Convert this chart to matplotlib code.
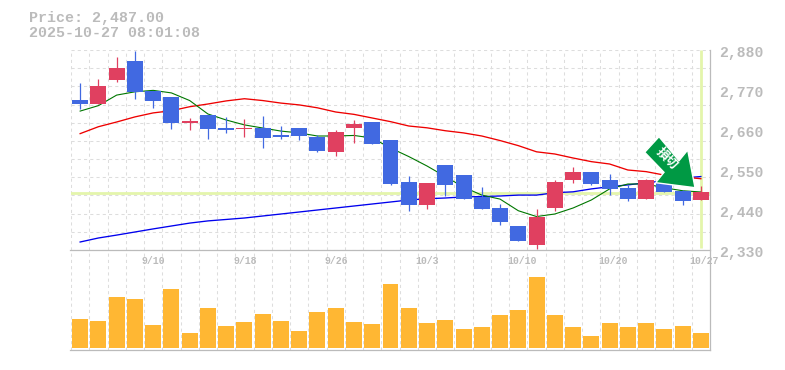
import matplotlib
matplotlib.use('Agg')
import matplotlib.pyplot as plt
from matplotlib.patches import Polygon

# everything, prices in yen
price_text = "Price: 2,487.00"
time_text = "2025-10-27 08:01:08"
current_price = 2487

date_pos = [4, 9, 14, 19, 24, 29, 34]
date_labels = ["9/10", "9/18", "9/26", "10/3", "10/10", "10/20", "10/27"]
price_ticks = [2880, 2770, 2660, 2550, 2440, 2330]

opens = [2742.5, 2731.5, 2797.5, 2850, 2768, 2751, 2679, 2701, 2665.5, 2663, 2665.5, 2646, 2665.5, 2640.5, 2599.5, 2665.5,
         2682, 2632.5, 2517, 2454, 2564, 2536, 2476, 2445.5, 2396, 2344, 2445.5, 2522.5, 2544.5, 2522.5, 2500.5, 2470, 2517, 2492, 2467.5]
closes = [2731.5, 2781, 2830.5, 2764.5, 2740, 2679, 2685, 2663, 2660, 2665.5, 2638, 2640.5, 2643.5, 2602, 2654.5, 2676.5,
          2621.5, 2511.5, 2454, 2514, 2509, 2470, 2443, 2407, 2355, 2421, 2517, 2544.5, 2511.5, 2498, 2470, 2522.5, 2489.5, 2465, 2489.5]
highs = [2790, 2800, 2861, 2877, 2768, 2751, 2693, 2701, 2696, 2690, 2698.5, 2671, 2665.5, 2646, 2660, 2687.5,
         2682, 2632.5, 2533.5, 2514, 2564, 2536, 2503, 2456.5, 2396, 2443, 2522.5, 2558, 2544.5, 2539, 2509, 2525, 2517, 2495, 2506]
lows = [2718, 2731.5, 2792, 2745, 2720.5, 2663, 2660, 2635, 2652, 2641, 2610.5, 2635, 2632.5, 2599.5, 2588.5, 2624,
        2621.5, 2509, 2437.5, 2443, 2478.5, 2470, 2443, 2399, 2355, 2333, 2437.5, 2514, 2509, 2481, 2465, 2470, 2489.5, 2454, 2467.5]

ma_short = [2712, 2727, 2756, 2765, 2769, 2762, 2741, 2704, 2687.5, 2674, 2665.5, 2657, 2652, 2643.5, 2643.5, 2645,
            2638, 2610.5, 2587, 2561, 2532, 2503, 2481, 2470, 2438, 2422, 2429, 2445.5, 2467.5, 2498, 2511.5, 2511.5, 2501, 2493, 2489.5]
ma_mid = [2650, 2669, 2682, 2696, 2707, 2713, 2724, 2731.5, 2740, 2746, 2741, 2734, 2729, 2721, 2709.5, 2703,
          2693, 2683, 2671, 2666, 2658, 2652, 2643.5, 2631, 2617, 2600, 2594, 2583, 2573, 2566.5, 2550, 2545.5, 2536, 2531, 2526]
ma_long = [2352, 2363, 2371, 2379.5, 2388, 2396, 2404, 2410, 2414, 2418, 2423.5, 2429, 2434.5, 2440, 2445.5, 2451,
           2456.5, 2462, 2467.5, 2471, 2473, 2476, 2477, 2478.5, 2481, 2481, 2487.5, 2490, 2498, 2504, 2509, 2515, 2520, 2528, 2532]

volume = [88, 82, 154, 148, 70, 178, 46, 121, 67, 79, 103, 82, 52, 109, 121, 79, 73, 193,
          121, 76, 85, 58, 64, 100, 115, 214, 100, 64, 37, 76, 64, 76, 58, 67, 46]

BLUE = '#4169e1'
RED = '#e04060'
ORANGE = '#ffb733'
GRAY = '#bbbbbb'
GRID = '#dddddd'
PALE = '#e4f5ab'
W, H = 785, 370

fig = plt.figure(figsize=(W / 100, H / 100), dpi=100)
ax = fig.add_axes([71 / W, 1 - 250 / H, 639 / W, 200 / H])
ax2 = fig.add_axes([71 / W, 1 - 350 / H, 639 / W, 100 / H])

n = len(opens)
xs = list(range(n))
for a in (ax, ax2):
    a.set_xlim(-0.5, n - 0.5)
    a.set_xticks([i - 0.5 for i in xs])
    a.tick_params(length=0, labelbottom=False, labelleft=False)
    a.grid(axis='x', color=GRID, lw=0.75, ls=(0, (3, 3)), zorder=0)
    a.set_axisbelow(True)
    for s in a.spines.values():
        s.set_visible(False)

ax.set_ylim(2330, 2880)
ax.set_yticks(range(2330, 2881, 50))
ax.grid(axis='y', color=GRID, lw=0.75, ls=(0, (3, 3)), zorder=0)

ax.axhline(current_price, color=PALE, lw=2, zorder=1)
ax.plot([n - 1, n - 1], [2335, 2880], color=PALE, lw=2, zorder=1, solid_capstyle='butt')

ax.plot(xs, ma_long, color='#0000ee', lw=0.95, zorder=2)
ax.plot(xs, ma_mid, color='#ee0000', lw=0.95, zorder=2)
ax.plot(xs, ma_short, color='#007700', lw=0.8, zorder=2)

for i in xs:
    c = RED if closes[i] >= opens[i] else BLUE
    ax.vlines(i, lows[i], highs[i], color=c, lw=0.9, zorder=3)
    ax.bar(i, abs(closes[i] - opens[i]), bottom=min(opens[i], closes[i]), width=16 / 18.26,
           color=c, lw=0, zorder=4)

ax2.set_ylim(-5, 295)
ax2.bar(xs, volume, width=16 / 18.26, color=ORANGE, lw=0, zorder=3)

# frame: bottom of each panel and the right edge
for y in (250, 350):
    fig.add_artist(plt.Line2D([70 / W, 710 / W], [1 - y / H, 1 - y / H], color=GRAY, lw=0.9))
fig.add_artist(plt.Line2D([709.5 / W, 709.5 / W], [1 - 350 / H, 1 - 50 / H], color=GRAY, lw=0.9))

for p in price_ticks:
    y = ax.transData.transform((0, p))[1]
    fig.text(719.5 / W, (y - 3) / H, f"{p:,}", family='Liberation Mono', size=10.6, color=GRAY,
             va='center', ha='left', weight='bold')

for i, label in zip(date_pos, date_labels):
    x = ax2.transData.transform((i, 0))[0]
    fig.text((x - 11.3) / W, 1 - 261 / H, label, family='Liberation Mono', size=7.1, color=GRAY,
             va='center', ha='left', weight='bold')

fig.text(29 / W, 1 - 18 / H, price_text, family='Liberation Mono', size=10.8, color=GRAY, va='center', weight='bold')
fig.text(29 / W, 1 - 33 / H, time_text, family='Liberation Mono', size=10.8, color=GRAY, va='center', weight='bold')

# signal arrow, in pixels like the rest of the frame
arrow_px = [(659, 136.7), (644.7, 152.3), (664, 172.3), (655.7, 182.7), (695, 187.7), (687.7, 150), (679, 160.7)]
arrow = Polygon([(x, H - y) for x, y in arrow_px], closed=True, facecolor='#009944', edgecolor='white',
                lw=1.0, transform=None, zorder=6)
fig.add_artist(arrow)
fig.text(666.5 / W, 1 - 159 / H, "損切", family=['Noto Sans CJK JP', 'DejaVu Sans'], size=9, color='white',
         weight='bold', rotation=-45, rotation_mode='anchor', ha='center', va='center', zorder=7)

fig.savefig('out.png', dpi=100)
